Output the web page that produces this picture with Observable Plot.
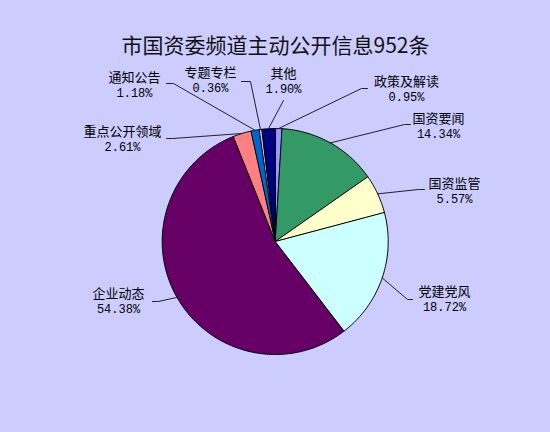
<!DOCTYPE html>
<html>
<head>
<meta charset="utf-8">
<script src="https://cdn.jsdelivr.net/npm/d3@7"></script>
<script src="https://cdn.jsdelivr.net/npm/@observablehq/plot@0.6"></script>
<style>
  html, body { margin: 0; padding: 0; background: #CCCCFF; }
  #chart { width: 550px; height: 432px; }
</style>
</head>
<body>
<div id="chart"></div>
<script>
// ---- data ----
const title = "市国资委频道主动公开信息952条";
const categories = ["政策及解读", "国资要闻", "国资监管", "党建党风", "企业动态", "重点公开领域", "通知公告", "专题专栏", "其他"];
const shares = [0.95, 14.34, 5.57, 18.72, 54.38, 2.61, 1.18, 0.36, 1.90];
const pctLabels = ["0.95%", "14.34%", "5.57%", "18.72%", "54.38%", "2.61%", "1.18%", "0.36%", "1.90%"];
const colors = ["#9999FF", "#339966", "#FFFFCC", "#CCFFFF", "#660066", "#FF8080", "#0066CC", "#CCCCFF", "#000080"];

// ---- layout (pixels) ----
const W = 550, H = 432;
const CX = 274.7, CY = 241, R = 113;
// label layout: knee of leader line, end of leader line, text centre
const labelLayout = {
  "政策及解读":   {knee: [361, 88],  end: [367, 88],  text: [406, 89]},
  "国资要闻":     {knee: [404, 124], end: [410, 124], text: [438, 126]},
  "国资监管":     {knee: [418, 189], end: [424, 189], text: [454, 191]},
  "党建党风":     {knee: [407, 299], end: [412, 299], text: [444, 299]},
  "企业动态":     {knee: [158, 301], end: [152, 301], text: [118, 301]},
  "重点公开领域": {knee: [172, 138], end: [166, 138], text: [122, 139]},
  "通知公告":     {knee: [173, 83],  end: [166, 83],  text: [134, 85]},
  "专题专栏":     {knee: [250, 81],  end: [241, 81],  text: [210, 80]},
  "其他":         {knee: [283, 100], end: [283, 100], text: [283, 81]}
};
const LINE_GAP = 8; // half distance between the two label lines (px)
const ux = px => (px - CX) / R;
const uy = py => (CY - py) / R;

// ---- geometry from data ----
const total = d3.sum(shares);
const slicePts = [];
const leaderPts = [];
const labels = [];
let cum = 0;
categories.forEach((name, i) => {
  const a0 = cum / total * 2 * Math.PI;
  cum += shares[i];
  const a1 = cum / total * 2 * Math.PI;
  const n = Math.max(2, Math.ceil((a1 - a0) / (Math.PI / 180)));
  slicePts.push({name, x: 0, y: 0});
  for (let k = 0; k <= n; k++) {
    const a = a0 + (a1 - a0) * k / n;
    slicePts.push({name, x: Math.sin(a), y: Math.cos(a)});
  }
  const am = (a0 + a1) / 2;
  const L = labelLayout[name];
  leaderPts.push({name, x: Math.sin(am), y: Math.cos(am)});
  leaderPts.push({name, x: ux(L.knee[0]), y: uy(L.knee[1])});
  leaderPts.push({name, x: ux(L.end[0]), y: uy(L.end[1])});
  labels.push({
    name, pct: pctLabels[i],
    x: ux(L.text[0]),
    y1: uy(L.text[1] - LINE_GAP),
    y2: uy(L.text[1] + LINE_GAP)
  });
});

const chart = Plot.plot({
  width: W,
  height: H,
  margin: 0,
  style: {background: "transparent", fontFamily: "'Noto Sans CJK SC', 'Noto Sans', sans-serif"},
  x: {axis: null, domain: [ux(0), ux(W)], range: [0, W]},
  y: {axis: null, domain: [uy(H), uy(0)], range: [H, 0]},
  color: {domain: categories, range: colors},
  marks: [
    Plot.line(slicePts, {x: "x", y: "y", z: "name", fill: "name", stroke: "black", strokeWidth: 1, curve: "linear-closed", strokeLinejoin: "round"}),
    Plot.line(leaderPts, {x: "x", y: "y", z: "name", stroke: "#222", strokeWidth: 1}),
    Plot.text(labels, {x: "x", y: "y1", text: "name", fontSize: 13, lineAnchor: "middle", fill: "black", textAnchor: "middle"}),
    Plot.text(labels, {x: "x", y: "y2", text: "pct", fontSize: 12, fontFamily: "'Liberation Mono', monospace", lineAnchor: "middle", fill: "black", textAnchor: "middle"}),
    Plot.text([title], {text: d => d, frameAnchor: "top", lineAnchor: "middle", dy: 46, fontSize: 21, fill: "#111"})
  ]
});
document.getElementById("chart").appendChild(chart);
</script>
</body>
</html>
